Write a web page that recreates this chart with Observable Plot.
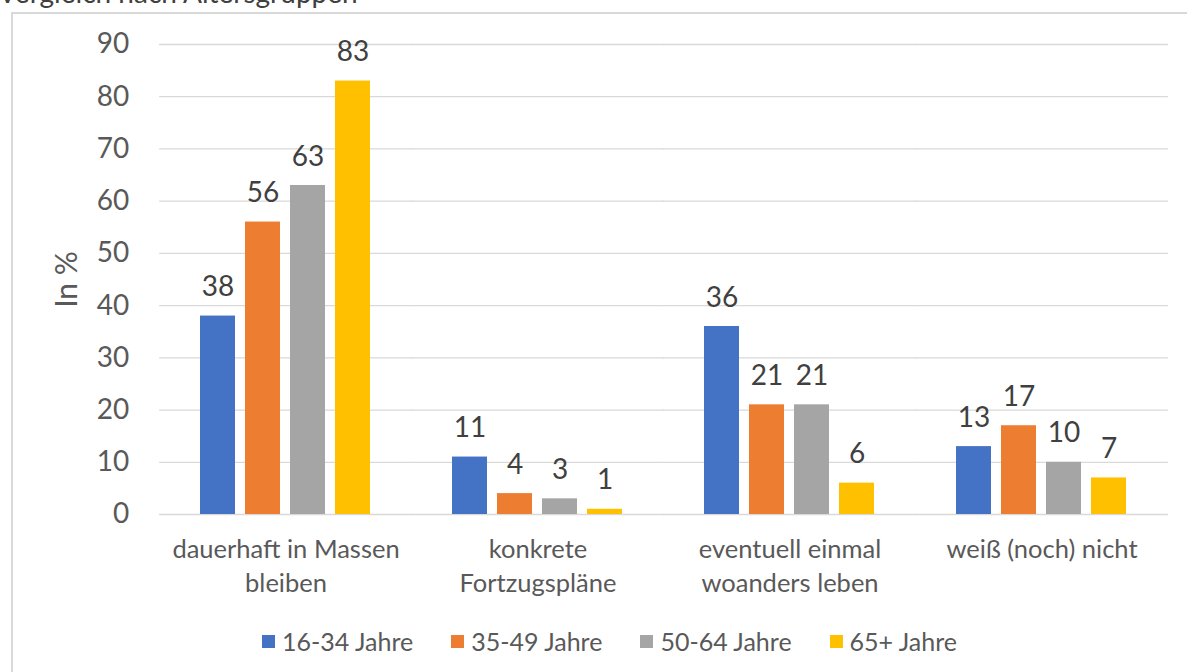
<!DOCTYPE html>
<html>
<head>
<meta charset="utf-8">
<script src="https://cdn.jsdelivr.net/npm/d3@7"></script>
<script src="https://cdn.jsdelivr.net/npm/@observablehq/plot@0.6"></script>
<style>
  html, body { margin: 0; padding: 0; background: #fff; }
  body { width: 1187px; height: 672px; overflow: hidden; position: relative; font-family: Lato, sans-serif; }
  #frame { position: absolute; left: 11px; top: 12px; width: 1200px; height: 700px; border: 2px solid #d9d9d9; box-sizing: border-box; }
  #title { position: absolute; left: -2px; top: -22px; font-size: 28px; color: #404040; line-height: 1; white-space: nowrap; }
  #chart { position: absolute; left: 0; top: 0; }
  #legend { position: absolute; left: 262px; top: 627px; display: flex; align-items: center; font-size: 25px; color: #595959; line-height: 28px; }
  .item { display: flex; align-items: center; margin-right: 38px; }
  .sw { width: 13px; height: 13px; margin-right: 7px; }
</style>
</head>
<body>
<div id="frame"></div>
<div id="title">Vergleich nach Altersgruppen</div>
<div id="chart"></div>
<div id="legend"></div>
<script>
const categories = ["dauerhaft in Massen\nbleiben", "konkrete\nFortzugspläne", "eventuell einmal\nwoanders leben", "weiß (noch) nicht"];
const series = ["16-34 Jahre", "35-49 Jahre", "50-64 Jahre", "65+ Jahre"];
const colors = ["#4472C4", "#ED7D31", "#A5A5A5", "#FFC000"];
const values1634 = [38, 11, 36, 13];
const values3549 = [56, 4, 21, 17];
const values5064 = [63, 3, 21, 10];
const values65 = [83, 1, 6, 7];
const yTicks = [0, 10, 20, 30, 40, 50, 60, 70, 80, 90];

const seriesValues = [values1634, values3549, values5064, values65];
const data = [];
categories.forEach((c, i) => {
  series.forEach((s, j) => data.push({cat: c, series: s, value: seriesValues[j][i]}));
});

const fxPadInner = 0.272, fxPadOuter = 0.136;
const plotW = 1187, mL = 158, mR = 18;
const step = (plotW - mL - mR) / (categories.length - fxPadInner + 2 * fxPadOuter);
const gapHalf = step * fxPadOuter; // half the gap between groups

const plot = Plot.plot({
  width: plotW,
  height: 615,
  marginLeft: mL,
  marginRight: mR,
  marginTop: 44,
  marginBottom: 101,
  style: {background: "transparent", fontFamily: "Lato, sans-serif", color: "#595959"},
  fx: {domain: categories, paddingInner: fxPadInner, paddingOuter: fxPadOuter, label: null},
  x: {domain: series, paddingInner: 0.217, paddingOuter: 0.1085, axis: null},
  y: {domain: [0, 90], label: null},
  color: {domain: series, range: colors},
  marks: [
    Plot.ruleY(yTicks, {y: d => d, stroke: "#d9d9d9", strokeWidth: 1.3, insetLeft: -gapHalf - 0.5, insetRight: -gapHalf - 0.5}),
    Plot.barY(data, {fx: "cat", x: "series", y: "value", fill: "series"}),
    Plot.text(data, {fx: "cat", x: "series", y: "value", text: d => String(d.value), dy: -20, lineAnchor: "bottom", fontSize: 28, fill: "#404040"}),
    Plot.axisY(yTicks, {tickSize: 0, tickPadding: 31 + gapHalf, fontSize: 28, fill: "#595959", label: null}),
    Plot.axisFx({anchor: "bottom", tickSize: 0, tickPadding: 20, fontSize: 25.5, lineHeight: 1.32, fill: "#595959", label: null}),
    Plot.text(["In %"], {frameAnchor: "left", textAnchor: "middle", rotate: -90, dx: -93 - gapHalf, fontSize: 30, fill: "#595959", facet: "super"})
  ]
});
document.getElementById("chart").appendChild(plot);

const legend = document.getElementById("legend");
series.forEach((s, i) => {
  const it = document.createElement("div");
  it.className = "item";
  const sw = document.createElement("div");
  sw.className = "sw";
  sw.style.background = colors[i];
  const t = document.createElement("span");
  t.textContent = s;
  it.appendChild(sw); it.appendChild(t);
  legend.appendChild(it);
});
</script>
</body>
</html>
